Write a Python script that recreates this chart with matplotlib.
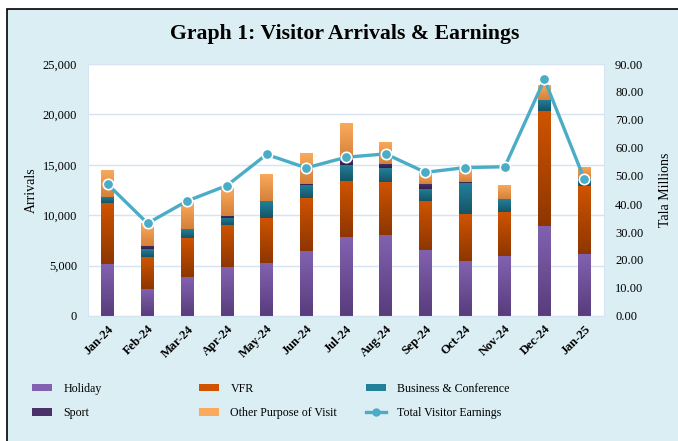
import numpy as np
import matplotlib
matplotlib.use("Agg")
import matplotlib.pyplot as plt
from matplotlib.colors import LinearSegmentedColormap
from matplotlib.patches import Rectangle
from matplotlib.lines import Line2D

months = ["Jan-24", "Feb-24", "Mar-24", "Apr-24", "May-24", "Jun-24", "Jul-24",
          "Aug-24", "Sep-24", "Oct-24", "Nov-24", "Dec-24", "Jan-25"]
holiday = [5150, 2720, 3820, 4820, 5250, 6410, 7810, 8040, 6580, 5450, 5910, 8970, 6110]
vfr = [6050, 3160, 3890, 4180, 4520, 5280, 5580, 5280, 4820, 4650, 4390, 11360, 6780]
business = [600, 730, 890, 700, 1630, 1330, 1630, 1360, 1220, 3060, 1260, 1100, 660]
sport = [0, 330, 0, 200, 0, 100, 430, 440, 440, 90, 0, 0, 100]
other = [2720, 2260, 2700, 2820, 2720, 3060, 3650, 2190, 1190, 1370, 1400, 1500, 1100]
earnings = [47.0, 33.1, 41.1, 46.6, 57.7, 52.9, 56.7, 57.9, 51.3, 53.0, 53.3, 84.5, 49.0]

series = [
    ("Holiday", holiday, "#8262B0", "#583C7C"),
    ("VFR", vfr, "#CF5400", "#8E3600"),
    ("Business & Conference", business, "#22809A", "#155466"),
    ("Sport", sport, "#4A3168", "#33204B"),
    ("Other Purpose of Visit", other, "#FAAA5C", "#D5813A"),
]
line_color = "#4BACC6"
bg = "#DBEEF4"

plt.rcParams["font.family"] = ["Liberation Serif", "DejaVu Serif"]

fig = plt.figure(figsize=(6.78, 4.41), dpi=100)
fig.patch.set_facecolor("white")
fig.patches.append(Rectangle((7 / 678, -0.01), 1.0, 1 - 9 / 441 + 0.01,
                             transform=fig.transFigure, facecolor=bg,
                             edgecolor="black", linewidth=1.2, zorder=-10))

ax = fig.add_axes([88 / 678, 1 - 316 / 441, (604 - 88) / 678, (316 - 64) / 441])
ax.set_facecolor("white")
x = np.arange(len(months))
width = 0.32
bottom = np.zeros(len(months))
for name, vals, top_c, bot_c in series:
    vals = np.array(vals, dtype=float)
    bars = ax.bar(x, vals, width, bottom=bottom, color=top_c, zorder=2)
    cmap = LinearSegmentedColormap.from_list(name, [bot_c, top_c])
    grad = np.linspace(0, 1, 64).reshape(-1, 1)
    for b in bars:
        if b.get_height() <= 0:
            continue
        x0, y0 = b.get_x(), b.get_y()
        im = ax.imshow(grad, cmap=cmap, origin="lower", aspect="auto",
                       extent=[x0, x0 + b.get_width(), y0, y0 + b.get_height()],
                       zorder=2.1)
        im.set_clip_path(b)
    bottom += vals

ax.set_xlim(-0.5, len(months) - 0.5)
ax.set_ylim(0, 25000)
ax.set_yticks(np.arange(0, 25001, 5000))
ax.set_yticklabels([f"{v:,}" for v in range(0, 25001, 5000)], fontsize=9)
ax.set_xticks(x)
ax.set_xticklabels(months, rotation=45, ha="right", rotation_mode="anchor",
                   fontsize=9, fontweight="bold")
ax.grid(axis="y", color="#D5E3F2", linewidth=1, zorder=0)
ax.set_axisbelow(True)
for s in ax.spines.values():
    s.set_color("#D5E3F2")
ax.tick_params(axis="y", length=0, pad=8)
ax.tick_params(axis="x", length=0, pad=5)
ax.set_ylabel("Arrivals", fontsize=10, labelpad=3)

ax2 = ax.twinx()
ax2.plot(x, earnings, color=line_color, linewidth=2.4, marker="o",
         markersize=7.5, markerfacecolor=line_color, markeredgecolor="white",
         markeredgewidth=1.2, zorder=5)
ax2.set_ylim(0, 90)
ax2.set_yticks(np.arange(0, 91, 10))
ax2.set_yticklabels([f"{v:.2f}" for v in range(0, 91, 10)], fontsize=9)
ax2.tick_params(length=0, pad=8)
for s in ax2.spines.values():
    s.set_visible(False)
ax2.set_ylabel("Tala Millions", fontsize=10, labelpad=11)

fig.text(345 / 678, 1 - 34 / 441, "Graph 1: Visitor Arrivals & Earnings",
         ha="center", va="center", fontsize=15.7, fontweight="bold")

h = {name: Rectangle((0, 0), 1, 1, facecolor=top_c) for name, _, top_c, _ in series}
h["Total Visitor Earnings"] = Line2D([], [], color=line_color, linewidth=2.4,
                                     marker="o", markersize=5,
                                     markeredgecolor=line_color)
columns = [(["Holiday", "Sport"], 21),
           (["VFR", "Other Purpose of Visit"], 188),
           (["Business & Conference", "Total Visitor Earnings"], 355)]
for labels, px in columns:
    leg = fig.legend([h[k] for k in labels], labels, loc="upper left",
                     bbox_to_anchor=(px / 678, 1 - 372 / 441), frameon=False,
                     fontsize=8.6, handlelength=1.7, handleheight=0.55,
                     handletextpad=0.95, labelspacing=1.05)

fig.savefig("out.png", dpi=100, facecolor=fig.get_facecolor())
